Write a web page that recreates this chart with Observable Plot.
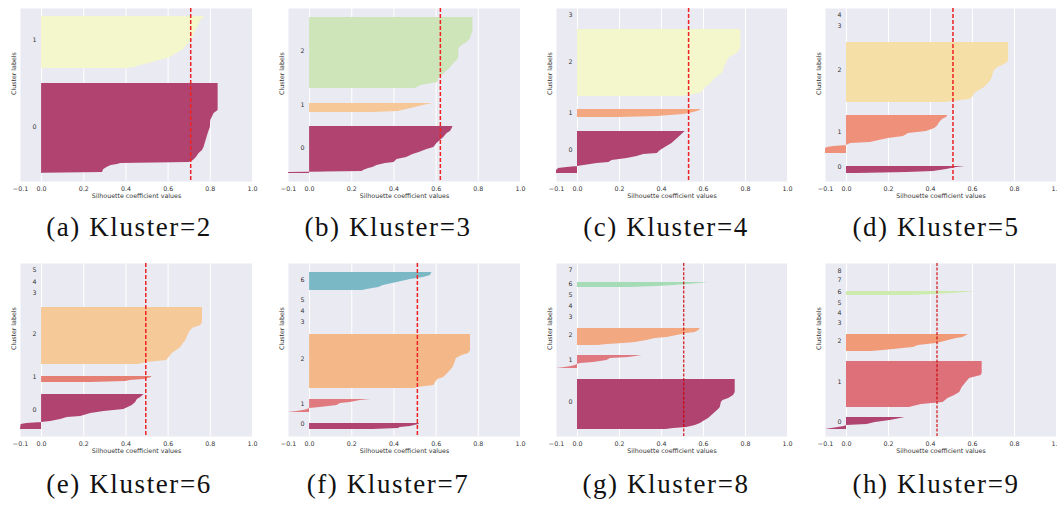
<!DOCTYPE html>
<html>
<head>
<meta charset="utf-8">
<script src="https://cdn.jsdelivr.net/npm/d3@7"></script>
<script src="https://cdn.jsdelivr.net/npm/@observablehq/plot@0.6"></script>
<style>
  html, body { margin: 0; padding: 0; background: #fff; }
  body { width: 1057px; height: 511px; overflow: hidden; position: relative; }
  .panel { position: absolute; }
  .panel svg { max-width: none !important; }
  .cap { position: absolute; width: 260px; text-align: center; font-family: "Liberation Serif", "Times New Roman", serif;
         font-size: 27px; line-height: 27px; letter-spacing: 1.6px; color: #111; white-space: nowrap; }
</style>
</head>
<body>
<script>
// ---------------- data ----------------
const kValues   = [2, 3, 4, 5, 6, 7, 8, 9];
const letters   = ["a", "b", "c", "d", "e", "f", "g", "h"];
const avgScore  = [0.707, 0.62, 0.529, 0.507, 0.494, 0.511, 0.506, 0.431];
const xTicks    = [-0.1, 0.0, 0.2, 0.4, 0.6, 0.8, 1.0];
const gridTicks = [0.0, 0.2, 0.4, 0.6, 0.8, 1.0];
const sampleRows = 173; // total rows on the sample axis of every panel

// silhouette profiles: [sample row, silhouette value] (sorted values, bottom -> top)
const k2Clusters = [
  {label: 0, rows: [[8,-0.09],[9,0.29],[10,0.29],[12,0.295],[14,0.31],[16,0.33],[17,0.36],[18,0.375],[19,0.70],[21,0.72],[24,0.734],[28,0.747],[31,0.763],[34,0.77],[41,0.78],[48,0.79],[54,0.80],[61,0.802],[68,0.818],[71,0.837],[98,0.837]]},
  {label: 1, rows: [[113,0.40],[114,0.44],[116,0.47],[118,0.51],[120,0.54],[122,0.58],[124,0.61],[128,0.64],[131,0.67],[134,0.68],[138,0.70],[143,0.715],[148,0.726],[154,0.74],[161,0.755],[165,0.774]]}
];
const k3Clusters = [
  {label: 0, rows: [[8,-0.1],[9,-0.1],[10,0.25],[11,0.255],[13,0.28],[14,0.30],[16,0.32],[18,0.36],[19,0.40],[22,0.415],[24,0.46],[27,0.49],[29,0.52],[32,0.557],[34,0.589],[38,0.604],[41,0.62],[44,0.636],[48,0.652],[50,0.668],[53,0.676],[55,0.68]]},
  {label: 1, rows: [[69,0.30],[70,0.42],[72,0.46],[74,0.50],[76,0.54],[77,0.56],[78,0.584]]},
  {label: 2, rows: [[93,0.50],[94,0.51],[96,0.53],[99,0.608],[103,0.612],[106,0.628],[109,0.644],[113,0.665],[116,0.676],[119,0.688],[121,0.70],[124,0.707],[131,0.707],[134,0.712],[136,0.723],[139,0.747],[143,0.763],[148,0.77],[149,0.774],[164,0.774]]}
];
const k4Clusters = [
  {label: 0, rows: [[8,-0.1],[11,-0.1],[13,-0.09],[14,-0.05],[15,0.0],[16,0.03],[18,0.094],[19,0.149],[21,0.165],[23,0.236],[25,0.284],[27,0.315],[28,0.38],[31,0.395],[34,0.418],[36,0.434],[38,0.45],[41,0.466],[44,0.482],[48,0.502],[50,0.513]]},
  {label: 1, rows: [[64,0.20],[65,0.38],[66,0.44],[67,0.506],[69,0.553],[71,0.585],[72,0.585]]},
  {label: 2, rows: [[85,0.50],[86,0.53],[88,0.585],[91,0.60],[94,0.609],[96,0.624],[99,0.64],[103,0.656],[106,0.677],[108,0.688],[111,0.696],[114,0.70],[118,0.708],[121,0.715],[124,0.724],[128,0.76],[131,0.772],[134,0.778],[152,0.778]]}
];
const k5Clusters = [
  {label: 0, rows: [[8,0.05],[9,0.287],[10,0.413],[12,0.476],[14,0.523],[15,0.565]]},
  {label: 1, rows: [[28,-0.1],[33,-0.1],[34,-0.09],[35,-0.06],[36,0.0],[38,0.02],[39,0.113],[43,0.20],[45,0.271],[48,0.295],[50,0.38],[53,0.42],[56,0.436],[58,0.44],[59,0.444],[62,0.457],[64,0.476],[66,0.483]]},
  {label: 2, rows: [[79,0.47],[80,0.507],[82,0.586],[84,0.60],[88,0.61],[91,0.633],[94,0.657],[99,0.68],[103,0.693],[106,0.696],[111,0.704],[114,0.72],[116,0.743],[119,0.767],[121,0.772],[139,0.772]]}
];
const k6Clusters = [
  {label: 0, rows: [[7,-0.1],[12,-0.097],[13,-0.07],[14,0.0],[15,0.043],[17,0.09],[19,0.122],[20,0.185],[23,0.233],[25,0.296],[27,0.39],[28,0.40],[31,0.43],[34,0.446],[37,0.454],[39,0.47],[42,0.486]]},
  {label: 1, rows: [[54,0.23],[55,0.40],[56,0.42],[57,0.486],[59,0.52],[60,0.522]]},
  {label: 2, rows: [[72,0.46],[74,0.50],[76,0.593],[79,0.604],[83,0.62],[86,0.64],[89,0.66],[93,0.672],[96,0.684],[99,0.69],[104,0.70],[108,0.715],[111,0.755],[114,0.763],[129,0.763]]}
];
const k7Clusters = [
  {label: 0, rows: [[7,0.30],[8,0.42],[9,0.43],[10,0.478],[12,0.517],[13,0.522]]},
  {label: 1, rows: [[24,-0.1],[25,-0.06],[26,-0.03],[27,-0.01],[28,0.0],[29,0.05],[31,0.13],[33,0.146],[34,0.193],[36,0.24],[37,0.29]]},
  {label: 2, rows: [[48,0.50],[49,0.51],[51,0.589],[54,0.597],[57,0.608],[59,0.636],[63,0.655],[66,0.668],[69,0.68],[73,0.688],[78,0.696],[81,0.723],[83,0.755],[86,0.763],[102,0.763]]},
  {label: 6, rows: [[146,0.25],[147,0.272],[149,0.328],[151,0.35],[154,0.415],[157,0.478],[159,0.54],[161,0.573],[164,0.58]]}
];
const k8Clusters = [
  {label: 0, rows: [[7,0.42],[8,0.458],[9,0.52],[11,0.561],[13,0.585],[15,0.60],[18,0.624],[21,0.64],[24,0.656],[27,0.672],[29,0.68],[34,0.685],[36,0.693],[38,0.72],[41,0.743],[44,0.751],[57,0.751]]},
  {label: 1, rows: [[68,-0.1],[69,-0.06],[70,-0.03],[71,-0.01],[72,0.0],[73,0.014],[74,0.078],[76,0.14],[78,0.157],[79,0.244],[81,0.307]]},
  {label: 2, rows: [[91,0.10],[92,0.14],[93,0.22],[94,0.276],[96,0.33],[98,0.37],[99,0.426],[101,0.474],[103,0.52],[104,0.561],[106,0.577],[108,0.585]]},
  {label: 6, rows: [[149,0.25],[150,0.38],[151,0.46],[152,0.52],[153,0.58],[154,0.622]]}
];
const k9Clusters = [
  {label: 0, rows: [[7,-0.1],[8,-0.07],[9,-0.04],[10,-0.01],[11,0.0],[12,0.098],[14,0.137],[16,0.208],[19,0.28]]},
  {label: 1, rows: [[29,0.30],[30,0.318],[32,0.357],[34,0.46],[38,0.483],[41,0.515],[44,0.539],[49,0.551],[54,0.57],[58,0.586],[61,0.641],[63,0.646],[75,0.646]]},
  {label: 2, rows: [[85,0.12],[86,0.176],[88,0.27],[89,0.318],[91,0.342],[93,0.428],[95,0.468],[98,0.523],[99,0.554],[102,0.581]]},
  {label: 6, rows: [[141,0.30],[142,0.42],[143,0.50],[144,0.57],[145,0.614]]}
];

// cluster tick labels: [label, sample row]
const k2Ticks = [[0,55],[1,142]];
const k3Ticks = [[0,34],[1,77],[2,131]];
const k4Ticks = [[0,32],[1,69],[2,120],[3,167]];
const k5Ticks = [[0,15],[1,50],[2,112],[3,156],[4,167]];
const k6Ticks = [[0,27],[1,60],[2,103],[3,144],[4,155],[5,167]];
const k7Ticks = [[0,13],[1,33],[2,78],[3,115],[4,126],[5,137],[6,157]];
const k8Ticks = [[0,35],[1,77],[2,102],[3,120],[4,131],[5,142],[6,153],[7,167]];
const k9Ticks = [[0,15],[1,55],[2,96],[3,114],[4,124],[5,134],[6,145],[7,157],[8,166]];

// ---------------- styles ----------------
const clusterSets = [k2Clusters, k3Clusters, k4Clusters, k5Clusters, k6Clusters, k7Clusters, k8Clusters, k9Clusters];
const tickSets = [k2Ticks, k3Ticks, k4Ticks, k5Ticks, k6Ticks, k7Ticks, k8Ticks, k9Ticks];
const fillSets = [
  {0: "#B0436F", 1: "#F4F6CC"},
  {0: "#B0436F", 1: "#F6C897", 2: "#CDE5B8"},
  {0: "#B0436F", 1: "#F4A882", 2: "#F4F6CC"},
  {0: "#B0436F", 1: "#EF907A", 2: "#F6DFA6"},
  {0: "#B0436F", 1: "#E57F74", 2: "#F5C998"},
  {0: "#B0436F", 1: "#E07A7E", 2: "#F4B888", 6: "#7AB8C6"},
  {0: "#B0436F", 1: "#E0797F", 2: "#F2A880", 6: "#A5DCB5"},
  {0: "#B0436F", 1: "#DE7079", 2: "#F09A78", 6: "#CDEBAF"}
];
const frameLeft  = [20, 288, 556, 825];
const frameWidth = [232, 232, 231, 231];
const frameTop   = [8, 263];
const capCenter  = [129, 388, 666, 936];
const capBaseline = [237, 494];
const frameH = 173, mL = 20, mT = 8, mB = 22, mR = 14;
const txt = {fontFamily: "DejaVu Sans, sans-serif", fontSize: 6.3, fill: "#333"};

kValues.forEach((k, i) => {
  const col = i % 4, row = Math.floor(i / 4);
  const dark = i >= 6;
  const fills = fillSets[i];
  const W = mL + frameWidth[col] + mR, H = mT + frameH + mB;
  const marks = [
    Plot.frame({fill: "#EAEAF2", stroke: null}),
    Plot.ruleX(gridTicks, {stroke: "white", strokeWidth: 1}),
    ...clusterSets[i].map(c => Plot.areaX(c.rows, {
      y: d => d[0], x1: () => 0, x2: d => d[1], fill: fills[c.label], curve: "linear"
    })),
    Plot.ruleX([avgScore[i]], dark
      ? {stroke: "#cc0000", strokeWidth: 1.1, strokeDasharray: "3,1.6"}
      : {stroke: "#ee2222", strokeWidth: 1.5, strokeDasharray: "4,2"}),
    Plot.text(tickSets[i], {y: d => d[1], text: d => String(d[0]), frameAnchor: "left", dx: 12, ...txt}),
    Plot.text(["Silhouette coefficient values"], {frameAnchor: "bottom", dy: 16, text: d => d, ...txt}),
    Plot.text(["Cluster labels"], {frameAnchor: "left", dx: -7, rotate: -90, text: d => d, ...txt}),
    Plot.axisX({ticks: xTicks, tickFormat: d3.format(".1f"), tickSize: 0, tickPadding: 5, label: null,
                fontSize: 6.3, fill: "#333"})
  ];
  const svg = Plot.plot({
    width: W,
    height: H,
    marginLeft: mL, marginRight: mR, marginTop: mT, marginBottom: mB,
    x: {domain: [-0.1, 1.0]},
    y: {domain: [0, sampleRows], axis: null},
    style: {fontFamily: "DejaVu Sans, sans-serif", fontSize: "6.3px", color: "#333", background: "transparent",
            overflow: "visible", maxWidth: "none"},
    marks
  });
  svg.style.width = W + "px";
  svg.style.height = H + "px";
  const div = document.createElement("div");
  div.className = "panel";
  div.style.left = (frameLeft[col] - mL) + "px";
  div.style.top = (frameTop[row] - mT) + "px";
  div.style.width = W + "px";
  div.style.height = H + "px";
  div.appendChild(svg);
  document.body.appendChild(div);

  const cap = document.createElement("div");
  cap.className = "cap";
  cap.textContent = `(${letters[i]}) Kluster=${k}`;
  cap.style.left = (capCenter[col] - 130) + "px";
  cap.style.top = (capBaseline[row] - 22.6) + "px";
  document.body.appendChild(cap);
});
</script>
</body>
</html>
